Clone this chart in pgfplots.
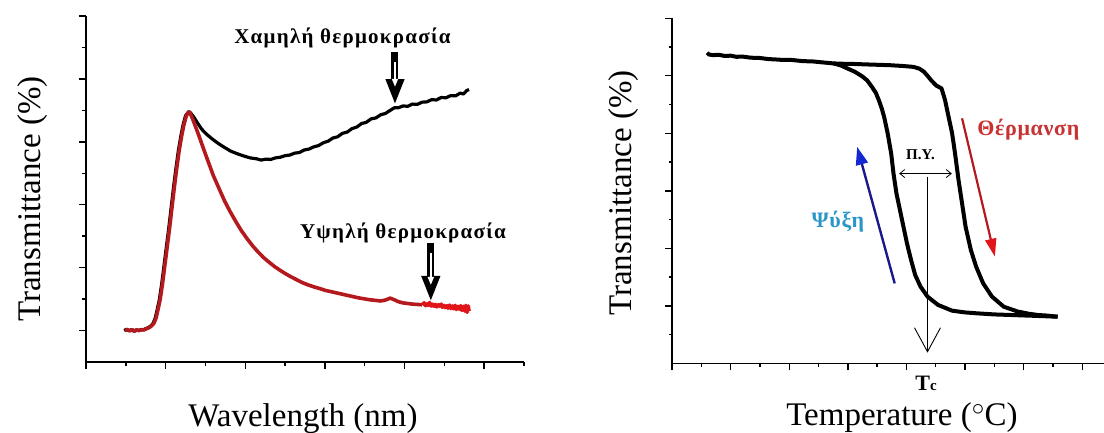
\documentclass[border=0pt]{standalone}
\usepackage{fontspec}
\setmainfont{Liberation Serif}
\usepackage{pgfplots}
\pgfplotsset{compat=1.18}
\usetikzlibrary{arrows.meta}
\definecolor{cred}{RGB}{180,25,30}
\definecolor{bred}{RGB}{225,20,25}
\definecolor{navy}{RGB}{25,25,140}
\definecolor{cblue}{RGB}{20,40,210}
\definecolor{teal}{RGB}{40,150,200}
\definecolor{hred}{RGB}{200,50,50}
\begin{document}
\begin{tikzpicture}
\pgfplotsset{
  myaxis/.style={scale only axis, clip=false,
    axis x line=bottom, axis y line=left,
    axis line style={-, line width=1.6pt, black},
    tick align=outside, major tick length=7pt, minor tick length=3.5pt,
    tick style={line width=1.4pt, black},
    xticklabels={}, yticklabels={}},
}
% ---------------- left panel ----------------
\begin{axis}[myaxis, at={(86pt,70pt)}, anchor=south west,
  width=438pt, height=346pt,
  xmin=0, xmax=5.5, ymin=0, ymax=11,
  xtick={0,1,2,3,4,5}, minor xtick={0.5,1.5,2.5,3.5,4.5,5.5},
  ytick={1,3,5,7,9,11}, minor ytick={2,4,6,8,10}]
\addplot[black, line width=3.2pt, line join=round] coordinates {
(0.48,1.00)(0.51,1.04)(0.54,0.99)(0.57,1.03)(0.60,0.98)(0.63,1.02)(0.66,1.00)(0.69,1.03)
(0.72,1.02)(0.75,1.06)(0.78,1.09)(0.81,1.14)(0.84,1.22)(0.87,1.40)(0.89,1.62)(0.92,1.97)
(0.95,2.47)(0.98,3.07)(1.01,3.67)(1.04,4.27)(1.07,4.92)(1.10,5.57)(1.13,6.17)(1.16,6.72)
(1.19,7.17)(1.22,7.55)(1.25,7.83)(1.29,7.96)(1.31,7.93)(1.35,7.80)(1.40,7.60)(1.45,7.41)
(1.51,7.25)(1.58,7.10)(1.66,6.95)(1.74,6.82)(1.82,6.70)(1.90,6.62)(1.98,6.55)(2.06,6.49)
(2.14,6.46)(2.20,6.42)(2.26,6.45)(2.32,6.44)(2.38,6.49)(2.44,6.51)(2.50,6.56)(2.56,6.58)
(2.62,6.64)(2.68,6.66)(2.74,6.74)(2.80,6.77)(2.86,6.84)(2.92,6.88)(2.98,6.97)(3.04,7.02)
(3.10,7.12)(3.16,7.16)(3.22,7.27)(3.28,7.31)(3.34,7.42)(3.40,7.47)(3.46,7.58)(3.52,7.62)
(3.58,7.73)(3.64,7.76)(3.70,7.86)(3.76,7.90)(3.82,8.00)(3.87,8.08)(3.92,8.08)(3.98,8.14)
(4.04,8.13)(4.10,8.20)(4.16,8.19)(4.22,8.26)(4.28,8.27)(4.34,8.34)(4.40,8.33)(4.46,8.41)
(4.52,8.40)(4.58,8.47)(4.64,8.46)(4.70,8.55)(4.74,8.52)(4.78,8.63)(4.81,8.66)};
\addplot[cred, line width=3.6pt, line join=round] coordinates {
(0.49,1.00)(0.52,1.03)(0.55,0.99)(0.58,1.03)(0.61,0.98)(0.64,1.02)(0.67,1.00)(0.70,1.03)
(0.73,1.02)(0.76,1.06)(0.79,1.09)(0.82,1.14)(0.85,1.22)(0.88,1.40)(0.90,1.62)(0.93,1.97)
(0.96,2.47)(0.99,3.07)(1.02,3.67)(1.05,4.27)(1.08,4.92)(1.11,5.57)(1.14,6.17)(1.17,6.72)
(1.20,7.17)(1.23,7.55)(1.26,7.83)(1.29,7.95)(1.31,7.90)(1.34,7.72)(1.38,7.45)(1.42,7.18)
(1.47,6.82)(1.53,6.40)(1.60,5.92)(1.67,5.52)(1.74,5.12)(1.81,4.78)(1.88,4.47)(1.95,4.18)
(2.02,3.93)(2.09,3.70)(2.16,3.50)(2.23,3.32)(2.30,3.17)(2.37,3.03)(2.44,2.91)(2.51,2.80)
(2.58,2.70)(2.65,2.61)(2.72,2.52)(2.79,2.45)(2.86,2.39)(2.93,2.34)(3.00,2.28)(3.07,2.24)
(3.14,2.20)(3.21,2.16)(3.28,2.12)(3.35,2.08)(3.42,2.04)(3.49,2.01)(3.56,1.98)(3.63,1.96)
(3.70,1.94)(3.76,1.97)(3.82,2.03)(3.87,1.98)(3.92,1.92)(3.98,1.88)(4.04,1.86)(4.10,1.84)
(4.16,1.83)(4.22,1.82)};
\addplot[bred, line width=3.6pt, line join=round] coordinates {
(4.22,1.82)(4.245,1.88)(4.265,1.79)(4.285,1.85)(4.30,1.80)(4.315,1.89)(4.335,1.78)(4.355,1.84)
(4.37,1.77)(4.39,1.83)(4.405,1.75)(4.425,1.82)(4.44,1.78)(4.46,1.84)(4.475,1.74)(4.495,1.80)
(4.51,1.73)(4.53,1.79)(4.545,1.71)(4.565,1.81)(4.58,1.70)(4.60,1.78)(4.615,1.69)(4.635,1.80)
(4.65,1.67)(4.67,1.77)(4.685,1.68)(4.705,1.79)(4.72,1.64)(4.74,1.77)(4.755,1.62)(4.77,1.80)
(4.785,1.58)(4.80,1.78)(4.81,1.62)};
% arrows
\draw[black, line width=7pt, -{Triangle[length=26pt,width=17pt]}] (axis cs:3.88,9.86) -- (axis cs:3.88,8.17);
\draw[white, line width=1.6pt, -{Triangle[length=8pt,width=6pt]}] (axis cs:3.88,9.55) -- (axis cs:3.88,8.75);
\draw[black, line width=7pt, -{Triangle[length=26pt,width=17pt]}] (axis cs:4.33,3.79) -- (axis cs:4.33,1.91);
\draw[white, line width=1.6pt, -{Triangle[length=8pt,width=6pt]}] (axis cs:4.33,3.45) -- (axis cs:4.33,2.45);
\node[font=\fontsize{21}{23}\selectfont\bfseries\addfontfeatures{LetterSpace=6}] at (axis cs:3.22,10.29) {Χαμηλή θερμοκρασία};
\node[font=\fontsize{21}{23}\selectfont\bfseries\addfontfeatures{LetterSpace=6}] at (axis cs:3.98,4.11) {Υψηλή θερμοκρασία};
\end{axis}
% ---------------- right panel ----------------
\begin{axis}[myaxis, at={(672pt,68.7pt)}, anchor=south west,
  width=439.5pt, height=345pt,
  xmin=0, xmax=7.5, ymin=0, ymax=12,
  xtick={0,1,2,3,4,5,6,7}, minor xtick={0.5,1.5,2.5,3.5,4.5,5.5,6.5,7.5},
  ytick={2,4,6,8,10,12}, minor ytick={1,3,5,7,9,11}]
\addplot[black, line width=4pt, line join=round] coordinates {
(0.60,10.80)(0.63,10.74)(0.70,10.72)(0.80,10.73)(0.90,10.69)(1.00,10.70)(1.10,10.66)(1.20,10.67)
(1.34,10.63)(1.50,10.62)(1.65,10.58)(1.76,10.57)(1.90,10.55)(2.05,10.55)(2.23,10.51)(2.40,10.50)
(2.55,10.47)(2.76,10.43)(2.90,10.42)(3.12,10.41)(3.40,10.39)(3.71,10.37)(3.95,10.34)(4.12,10.31)
(4.22,10.25)(4.30,10.14)(4.36,10.00)(4.42,9.85)(4.51,9.66)(4.60,9.56)(4.66,9.15)(4.72,8.57)
(4.78,8.00)(4.83,7.30)(4.89,6.37)(4.95,5.56)(5.01,4.75)(5.10,3.94)(5.19,3.36)(5.31,2.78)
(5.46,2.32)(5.66,1.97)(5.90,1.80)(6.10,1.72)(6.25,1.68)(6.40,1.66)(6.58,1.62)};
\addplot[black, line width=4pt, line join=round] coordinates {
(2.76,10.43)(2.88,10.36)(3.00,10.25)(3.12,10.14)(3.24,9.99)(3.33,9.84)(3.41,9.62)(3.48,9.40)
(3.53,9.15)(3.58,8.86)(3.62,8.57)(3.68,8.00)(3.74,7.30)(3.78,6.60)(3.83,5.91)(3.89,5.33)
(3.95,4.75)(4.01,4.17)(4.08,3.59)(4.15,3.07)(4.24,2.67)(4.36,2.32)(4.54,2.03)(4.78,1.83)
(5.00,1.77)(5.19,1.74)(5.50,1.70)(5.78,1.68)(6.20,1.65)(6.58,1.62)};
\draw[navy, line width=2.4pt, -{Triangle[length=18pt,width=12pt,fill=cblue,color=cblue]}] (axis cs:3.80,2.78) -- (axis cs:3.16,7.53);
\draw[cred, line width=2.2pt, -{Triangle[length=18pt,width=11pt,fill=bred,color=bred]}] (axis cs:4.95,8.52) -- (axis cs:5.51,3.71);
\draw[black, line width=0.8pt, {Straight Barb[length=5pt,width=8pt]}-{Straight Barb[length=5pt,width=8pt]}] (axis cs:3.876,6.60) -- (axis cs:4.775,6.60);
\draw[black, line width=0.9pt, -{Straight Barb[length=24pt,width=26pt]}] (axis cs:4.36,6.49) -- (axis cs:4.36,0.37);
\node[font=\fontsize{15}{17}\selectfont\bfseries] at (axis cs:4.24,7.24) {Π.Υ.};
\node[font=\fontsize{22}{24}\selectfont\bfseries\addfontfeatures{LetterSpace=3}, text=teal] at (axis cs:2.83,4.92) {Ψύξη};
\node[font=\fontsize{22}{24}\selectfont\bfseries\addfontfeatures{LetterSpace=3}, text=hred] at (axis cs:6.08,8.13) {Θέρμανση};
\end{axis}
% labels
\node[rotate=90, anchor=base, font=\fontsize{33}{36}\selectfont] at (40pt,233pt) {Transmittance (\%)};
\node[rotate=90, anchor=base, font=\fontsize{33}{36}\selectfont] at (631pt,239pt) {Transmittance (\%)};
\node[anchor=base, font=\fontsize{33}{36}\selectfont] at (303pt,5.3pt) {Wavelength (nm)};
\node[anchor=base, font=\fontsize{33}{36}\selectfont] at (902pt,7pt) {Temperature ($^{\circ}$C)};
\node[anchor=base, font=\bfseries] at (926pt,42pt) {\fontsize{22}{24}\selectfont T\fontsize{15}{17}\selectfont c};
\pgfresetboundingbox
\path (0pt,0pt) rectangle (1104pt,432pt);
\end{tikzpicture}
\end{document}
